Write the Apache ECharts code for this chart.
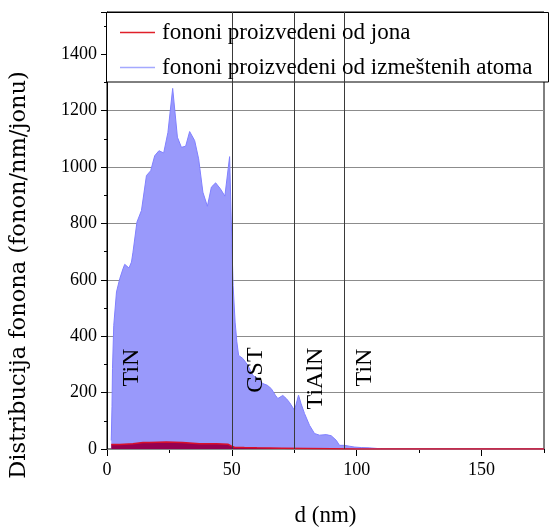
<!DOCTYPE html>
<html>
<head>
<meta charset="utf-8">
<script src="https://cdn.jsdelivr.net/npm/echarts@6/dist/echarts.min.js"></script>
<style>html,body{margin:0;padding:0;background:#fff}#c{width:549px;height:532px}</style>
</head>
<body>
<div id="c"></div>
<script>
// ---- data ----
var seriesNames = ['fononi proizvedeni od jona', 'fononi proizvedeni od izmeštenih atoma'];
var dBlue = [1.7, 2.0, 2.2, 2.7, 3.8, 5.1, 6.4, 7.1, 8.8, 9.8, 10.4, 12.0, 13.8, 15.8, 17.5, 19.1, 20.8, 22.7, 24.4, 26.3, 28.2, 29.8, 31.5, 33.1, 35.1, 36.7, 38.4, 40.2, 41.8, 43.5, 45.4, 47.2, 49.1, 49.8, 50.5, 51.3, 52.0, 52.7, 54.4, 56.4, 58.4, 60.4, 62.4, 64.2, 65.8, 67.4, 68.4, 70.4, 71.8, 73.1, 75.1, 76.7, 77.7, 79.1, 81.1, 83.1, 85.1, 87.8, 89.8, 91.8, 93.1, 95.0, 97.0, 99.0, 102, 105, 108, 110, 175];
var vBlue = [30, 150, 285, 438, 557, 604, 639, 655, 642, 663, 698, 805, 846, 970, 987, 1040, 1058, 1050, 1123, 1279, 1106, 1070, 1074, 1126, 1094, 1029, 911, 861, 929, 944, 923, 897, 1037, 800, 580, 450, 380, 332, 321, 297, 261, 250, 232, 226, 214, 191, 179, 190, 179, 165, 137, 191, 161, 126, 84, 55, 49, 51, 47, 31, 13, 13, 10, 7, 5, 4, 2, 0, 0];
var dRed = [1.7, 5.1, 10.4, 14.4, 17, 23.8, 30.3, 37, 43.8, 48.4, 49.7, 51, 55, 60, 70, 80, 90, 100, 175];
var vRed = [16, 16, 19, 23, 23, 25, 23, 19, 19, 17, 11, 6, 5, 4, 3, 2, 1, 0, 0];
var boundaries = [50, 75, 95];
var layerNames = ['TiN', 'GST', 'TiAlN', 'TiN'];
var layerX = [9.8, 59.6, 83.4, 103];
var layerY = [289, 280, 250, 289];
var yTicks = {min: 0, max: 1550, interval: 200};
var xTicks = {min: 0, max: 175, interval: 50};
var xTitle = 'd (nm)';
var yTitle = 'Distribucija fonona (fonon/nm/jonu)';

// ---- chart ----
var serif = '"Liberation Serif", serif';
var chart = echarts.init(document.getElementById('c'), null, {renderer: 'canvas'});
function pairs(xs, ys) { return xs.map(function (x, i) { return [x, ys[i]]; }); }
function plain(v) { return String(v); }

var option = {
  animation: false,
  grid: {left: 107, right: 5, top: 12, bottom: 82, show: true, borderColor: '#000', borderWidth: 1, backgroundColor: 'transparent'},
  legend: {
    z: 6,
    orient: 'vertical', left: 120, top: 21, padding: 0,
    itemWidth: 35, itemHeight: 1.5, itemGap: 12, icon: 'rect',
    textStyle: {fontFamily: serif, fontSize: 23, color: '#000', lineHeight: 23, padding: [0, 0, 0, 2]},
    data: [
      {name: seriesNames[0], itemStyle: {color: '#e0202a', borderWidth: 0}},
      {name: seriesNames[1], itemStyle: {color: '#a4a9ff', borderWidth: 0}}
    ]
  },
  graphic: {elements: [
    {type: 'rect', z: 5, shape: {x: 106.5, y: 12.5, width: 442, height: 69.5}, style: {fill: '#fff', stroke: '#000', lineWidth: 1}},
    {type: 'text', z: 5, x: 19, y: 275, rotation: Math.PI / 2,
     style: {text: yTitle, font: '22.5px "DejaVu Serif"', fill: '#000', textAlign: 'center', textVerticalAlign: 'middle'}}
  ]},
  xAxis: [
    {type: 'value', min: xTicks.min, max: xTicks.max, interval: xTicks.interval,
     axisLine: {show: true, lineStyle: {color: '#000', width: 1}},
     axisTick: {show: true, length: 7, lineStyle: {color: '#000'}},
     splitLine: {show: false},
     axisLabel: {show: true, showMaxLabel: false, margin: 12, formatter: plain, fontFamily: serif, fontSize: 18, color: '#000'},
     name: xTitle, nameLocation: 'middle', nameGap: 55,
     nameTextStyle: {fontFamily: serif, fontSize: 23, color: '#000'}},
    {type: 'value', min: xTicks.min, max: xTicks.max, interval: xTicks.interval / 2,
     axisLine: {show: false}, axisTick: {show: true, length: 4, lineStyle: {color: '#000'}},
     splitLine: {show: false}, axisLabel: {show: false}, position: 'bottom'}
  ],
  yAxis: {
    type: 'value', min: yTicks.min, max: yTicks.max, interval: yTicks.interval, z: 3,
    axisLine: {show: true, lineStyle: {color: '#000', width: 1}},
    axisTick: {show: true, length: 6, lineStyle: {color: '#000'}},
    minorTick: {show: true, splitNumber: 2, length: 3, lineStyle: {color: '#000'}},
    splitLine: {show: true, lineStyle: {color: '#8c8c8c', width: 1}},
    axisLabel: {showMaxLabel: false, margin: 10, formatter: plain, fontFamily: serif, fontSize: 18, color: '#000'}
  },
  series: [
    {
      name: seriesNames[1], type: 'line', xAxisIndex: 0, showSymbol: false, symbol: 'none',
      data: pairs(dBlue, vBlue),
      lineStyle: {color: '#8080ff', width: 1},
      itemStyle: {color: '#a4a9ff'},
      areaStyle: {color: '#9999fb', opacity: 1},
      markLine: {
        silent: true, symbol: ['none', 'none'], label: {show: false},
        lineStyle: {color: '#3a3a3a', type: 'solid', width: 1},
        data: boundaries.map(function (b) { return {xAxis: b}; })
      },
      markPoint: {
        symbol: 'circle', symbolSize: 0, silent: true,
        label: {show: true, position: 'inside', rotate: 90, formatter: '{b}', fontFamily: serif, fontSize: 24, color: '#000'},
        data: layerNames.map(function (n, i) { return {name: n, coord: [layerX[i], layerY[i]]}; })
      }
    },
    {
      name: seriesNames[0], type: 'line', xAxisIndex: 0, showSymbol: false, symbol: 'none',
      data: pairs(dRed, vRed),
      lineStyle: {color: '#d8102a', width: 1.5},
      itemStyle: {color: '#e0202a'},
      areaStyle: {color: '#960050', opacity: 1}
    }
  ]
};
chart.setOption(option);
</script>
</body>
</html>
